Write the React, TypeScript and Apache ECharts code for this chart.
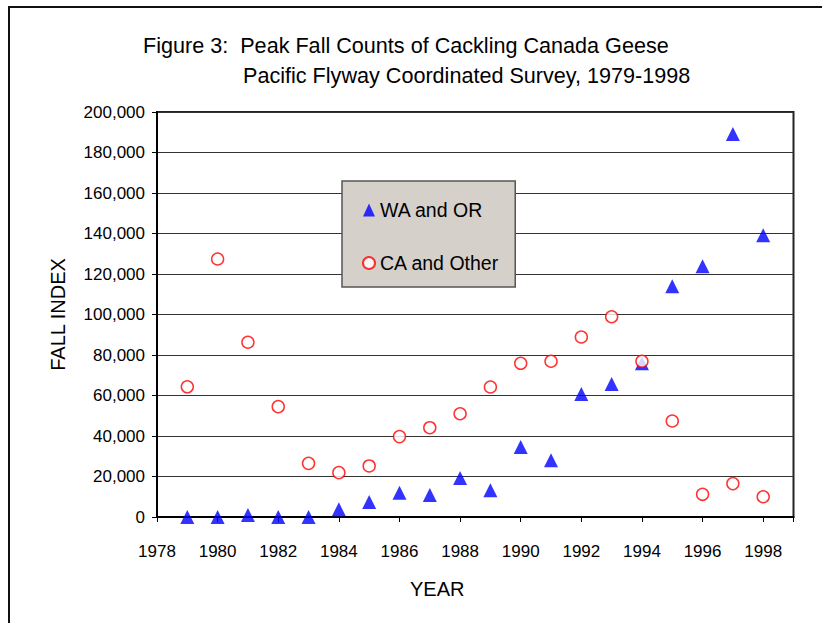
import React, { useEffect, useRef } from "react";
import * as echarts from "echarts";

const years = [1979, 1980, 1981, 1982, 1983, 1984, 1985, 1986, 1987, 1988, 1989, 1990, 1991, 1992, 1993, 1994, 1995, 1996, 1997, 1998];
const waOr = [0, 0, 1000, 0, 0, 3800, 7400, 12000, 10900, 19300, 13200, 34600, 28000, 60700, 65700, 75900, 113900, 123800, 189100, 139100];
const caOther = [64300, 127400, 86300, 54500, 26500, 21900, 25200, 39700, 44100, 51000, 64200, 75900, 76900, 88900, 98900, 76900, 47400, 11200, 16500, 10000];
const seriesNames = ["WA and OR", "CA and Other"];
const titleLines = ["Figure 3:  Peak Fall Counts of Cackling Canada Geese", "Pacific Flyway Coordinated Survey, 1979-1998"];

const FONT = "'Liberation Sans', Arial, sans-serif";

export default function App() {
  const ref = useRef<HTMLDivElement>(null);
  useEffect(() => {
    if (!ref.current) return;
    const chart = echarts.init(ref.current, undefined, { renderer: "svg" });
    chart.setOption({
      animation: false,
      backgroundColor: "#ffffff",
      textStyle: { fontFamily: FONT },
      title: [
        { text: titleLines[0], left: 143, top: 34, padding: 0, textStyle: { fontSize: 21.6, fontWeight: "normal", color: "#000", fontFamily: FONT } },
        { text: titleLines[1], left: 243, top: 64, padding: 0, textStyle: { fontSize: 21.6, fontWeight: "normal", color: "#000", fontFamily: FONT } },
      ],
      graphic: [
        { type: "rect", shape: { x: 9, y: 7, width: 900, height: 700 }, style: { fill: "none", stroke: "#111", lineWidth: 2 }, silent: true },
      ],
      legend: {
        orient: "vertical",
        left: 342,
        top: 181,
        padding: [19, 16, 14, 20],
        itemGap: 33,
        itemWidth: 12,
        itemHeight: 13,
        backgroundColor: "#d6d0cb",
        borderColor: "#555",
        borderWidth: 1.5,
        textStyle: { fontSize: 19.5, lineHeight: 20, color: "#000", fontFamily: FONT },
        data: seriesNames,
      },
      grid: {
        left: 157,
        right: 28.5,
        top: 112,
        bottom: 106,
        show: true,
        borderColor: "#222",
        borderWidth: 2,
      },
      xAxis: {
        type: "value",
        min: 1978,
        max: 1999,
        interval: 2,
        name: "YEAR",
        nameLocation: "middle",
        nameGap: 62,
        nameTextStyle: { fontSize: 20, color: "#000", padding: [0, 76, 0, 0] },
        axisLine: { show: true, onZero: false, lineStyle: { color: "#000", width: 2 } },
        axisTick: { show: true, length: 5, lineStyle: { color: "#000", width: 1 } },
        axisLabel: {
          margin: 26,
          fontSize: 17,
          color: "#000",
          formatter: (v: number) => (v === 1999 ? "" : String(v)),
        },
        splitLine: { show: false },
      },
      yAxis: {
        type: "value",
        min: 0,
        max: 200000,
        interval: 20000,
        name: "FALL INDEX",
        nameLocation: "middle",
        nameGap: 89.5,
        nameTextStyle: { fontSize: 20, color: "#000" },
        axisLine: { show: true, lineStyle: { color: "#000", width: 2 } },
        axisTick: { show: true, length: 5, lineStyle: { color: "#000", width: 1 } },
        axisLabel: {
          margin: 12,
          fontSize: 17,
          color: "#000",
          formatter: (v: number) => v.toLocaleString("en-US"),
        },
        splitLine: { show: true, lineStyle: { color: "#333", width: 1 } },
      },
      series: [
        {
          name: seriesNames[0],
          type: "scatter",
          symbol: "triangle",
          symbolSize: [14, 14],
          itemStyle: { color: "#0000ff" },
          data: years.map((y, i) => [y, waOr[i]]),
        },
        {
          name: seriesNames[1],
          type: "scatter",
          symbol: "circle",
          symbolSize: 12,
          itemStyle: { color: "#ffffff", borderColor: "#ff0000", borderWidth: 1.5 },
          data: years.map((y, i) => [y, caOther[i]]),
        },
      ],
    });
    return () => chart.dispose();
  }, []);
  return <div ref={ref} style={{ position: "absolute", left: 0, top: 0, width: 822, height: 623 }} />;
}
